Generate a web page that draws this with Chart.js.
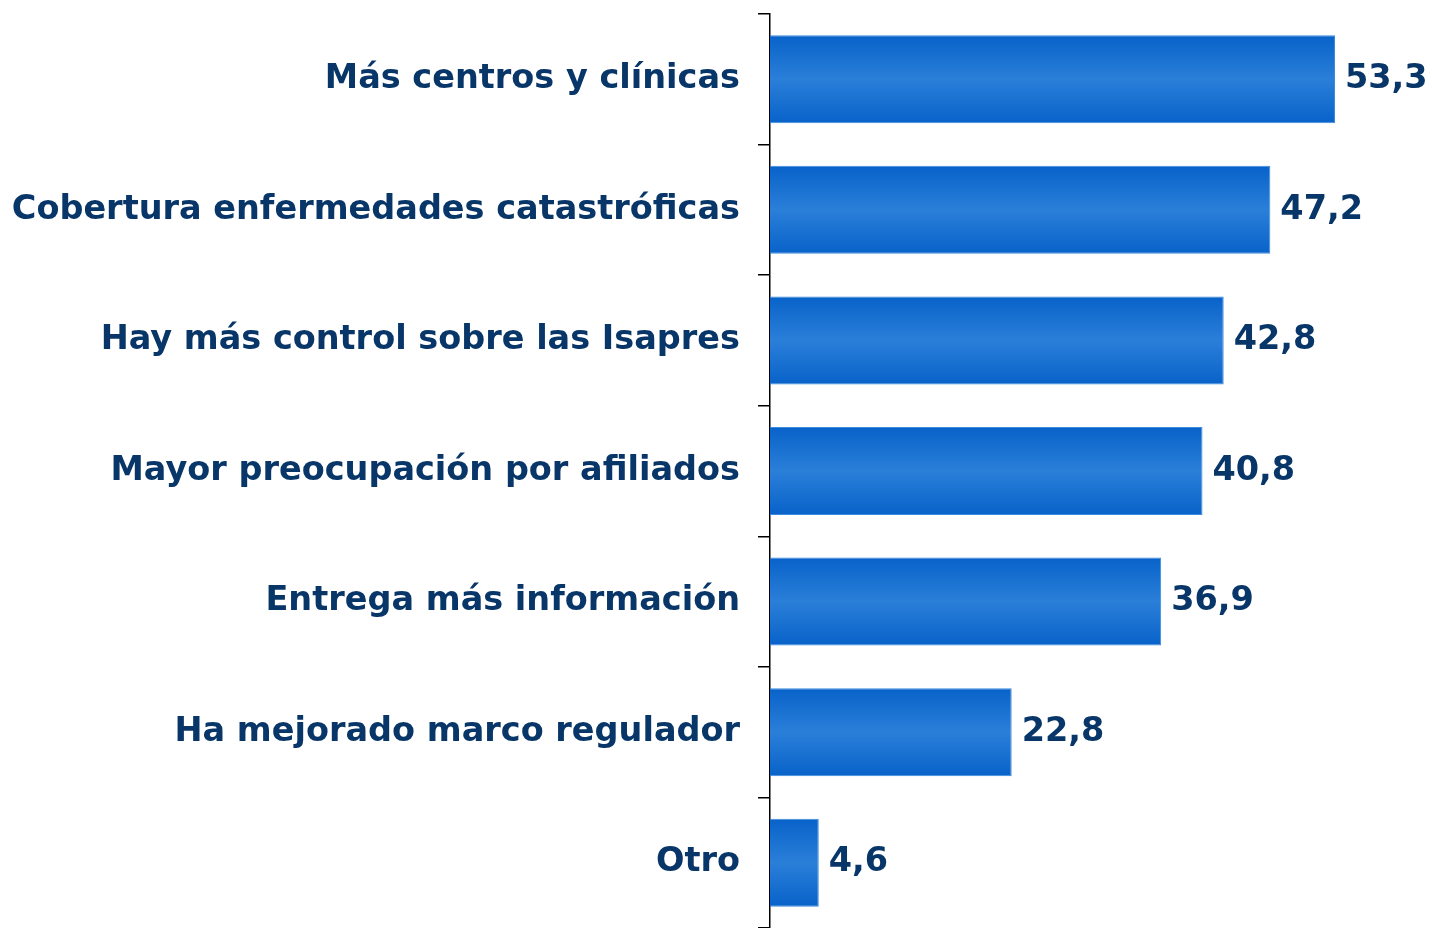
<!DOCTYPE html>
<html>
<head>
<meta charset="utf-8">
<script src="https://cdn.jsdelivr.net/npm/chart.js@4"></script>
<style>
  html, body { margin: 0; padding: 0; background: #fff; }
  #wrap { width: 1432px; height: 928px; }
</style>
</head>
<body>
<div id="wrap"><canvas id="grafica"></canvas></div>
<script>
const categorias = [
    'Más centros y clínicas',
    'Cobertura enfermedades catastróficas',
    'Hay más control sobre las Isapres',
    'Mayor preocupación por afiliados',
    'Entrega más información',
    'Ha mejorado marco regulador',
    'Otro'
];
const valores = [53.3, 47.2, 42.8, 40.8, 36.9, 22.8, 4.6];
const etiquetas = ['53,3', '47,2', '42,8', '40,8', '36,9', '22,8', '4,6'];

const colorTexto = '#083668';
const fuente = { family: 'DejaVu Sans', weight: 'bold', size: 33.5 };
const grosorBarra = 0.674;

// degradado vertical para cada barra (oscuro arriba y abajo, claro al centro)
function colorBarra(context) {
    const chart = context.chart;
    const escala = chart.scales.y;
    if (!escala || !chart.chartArea) return '#1a70d0';
    const alto = escala.height / categorias.length * grosorBarra;
    const centro = escala.getPixelForValue(context.dataIndex);
    const g = chart.ctx.createLinearGradient(0, centro - alto / 2, 0, centro + alto / 2);
    g.addColorStop(0, '#0862c9');
    g.addColorStop(0.5, '#2a7fd8');
    g.addColorStop(1, '#0862c9');
    return g;
}

// valores al final de las barras
const etiquetasValor = {
    id: 'etiquetasValor',
    afterDatasetsDraw(chart) {
        const ctx = chart.ctx;
        ctx.save();
        ctx.font = `${fuente.weight} ${fuente.size}px ${fuente.family}`;
        ctx.fillStyle = colorTexto;
        ctx.textAlign = 'left';
        ctx.textBaseline = 'middle';
        chart.getDatasetMeta(0).data.forEach((bar, i) => {
            ctx.fillText(etiquetas[i], bar.x + 10, bar.y);
        });
        ctx.restore();
    }
};

new Chart(document.getElementById('grafica'), {
    type: 'bar',
    data: {
        labels: categorias,
        datasets: [{
            data: valores,
            backgroundColor: colorBarra,
            borderColor: '#3a8ae0',
            borderWidth: 1,
            borderSkipped: 'left',
            barPercentage: grosorBarra,
            categoryPercentage: 1
        }]
    },
    options: {
        indexAxis: 'y',
        responsive: true,
        maintainAspectRatio: false,
        animation: false,
        layout: { padding: { top: 14, left: 0, right: 0, bottom: 0 } },
        plugins: {
            legend: { display: false },
            tooltip: { enabled: false }
        },
        scales: {
            x: {
                display: false,
                min: 0,
                max: 62.45
            },
            y: {
                afterFit(scale) {
                    scale.width = 770;
                    scale.paddingTop = 0;
                    scale.paddingBottom = 0;
                },
                border: { display: true, color: '#000', width: 1.5 },
                grid: {
                    offset: true,
                    drawOnChartArea: false,
                    drawTicks: true,
                    tickLength: 12,
                    color: '#000',
                    lineWidth: 1.5
                },
                ticks: {
                    color: colorTexto,
                    font: fuente,
                    padding: 18
                }
            }
        }
    },
    plugins: [etiquetasValor]
});
</script>
</body>
</html>
